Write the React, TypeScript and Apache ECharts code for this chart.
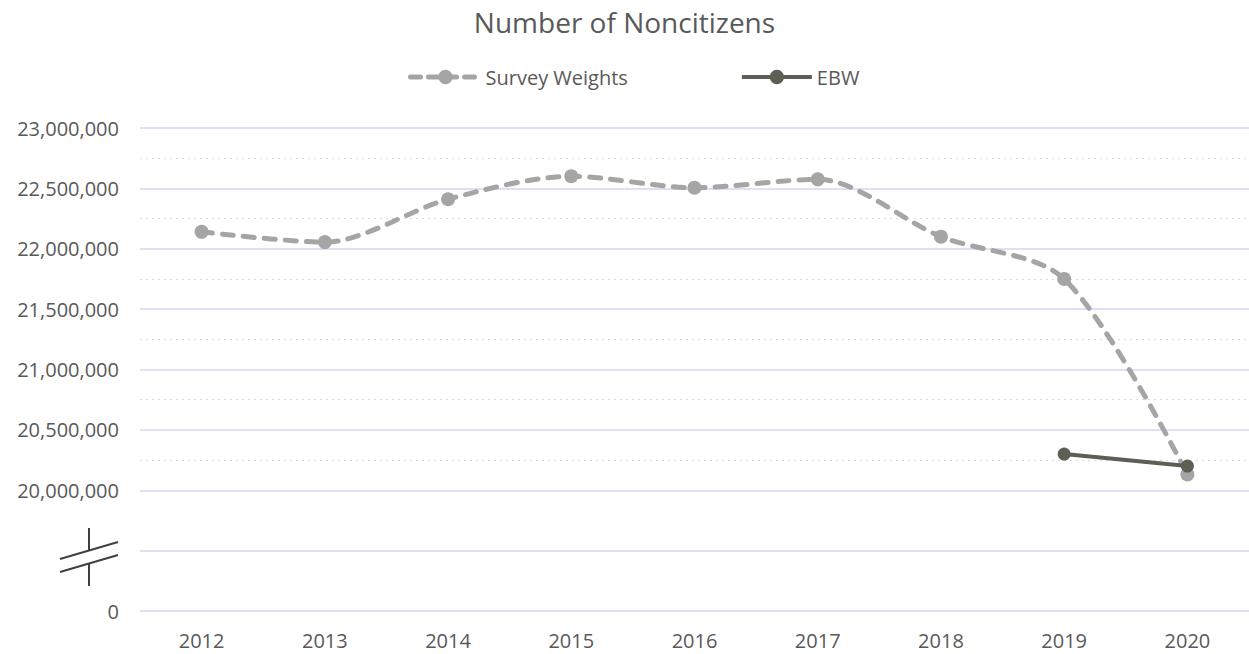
import React, { useEffect, useRef } from "react";
import * as echarts from "echarts";

const categories = ["2012", "2013", "2014", "2015", "2016", "2017", "2018", "2019", "2020"];
const surveyWeights = [22140000, 22055000, 22410000, 22600000, 22505000, 22575000, 22100000, 21750000, 20130000];
const ebw = [null, null, null, null, null, null, null, 20300000, 20200000];
const yTickValues = [19000000, 19500000, 20000000, 20500000, 21000000, 21500000, 22000000, 22500000, 23000000];
const yTickLabels = ["0", "", "20,000,000", "20,500,000", "21,000,000", "21,500,000", "22,000,000", "22,500,000", "23,000,000"];
const minorGridValues = [20250000, 20750000, 21250000, 21750000, 22250000, 22750000];

const FONT = "'Open Sans', 'Noto Sans', sans-serif";
const TEXT = "#595959";
const SURVEY = "#a5a5a5";
const EBWC = "#5e5e55";

export default function App() {
  const ref = useRef<HTMLDivElement>(null);
  useEffect(() => {
    if (!ref.current) return;
    const chart = echarts.init(ref.current, null, { renderer: "svg" });
    chart.setOption({
      animation: false,
      backgroundColor: "#ffffff",
      textStyle: { fontFamily: FONT },
      title: {
        text: "Number of Noncitizens",
        left: "center",
        top: 3,
        textStyle: { fontFamily: FONT, fontSize: 28, fontWeight: "normal", color: TEXT },
      },
      legend: {
        left: 403,
        top: 62,
        itemWidth: 70,
        itemHeight: 18,
        itemGap: 112,
        textStyle: { fontFamily: FONT, fontSize: 20, color: TEXT },
        data: [
          { name: "Survey Weights", lineStyle: { width: 5, color: SURVEY, type: [10, 8], cap: "round" } },
          { name: "EBW", lineStyle: { width: 4, color: EBWC } },
        ],
      },
      grid: { left: 140, top: 128, width: 1113, height: 483 },
      xAxis: {
        type: "category",
        data: categories,
        boundaryGap: true,
        axisLine: { show: false },
        axisTick: { show: false },
        axisLabel: { fontFamily: FONT, fontSize: 20, color: TEXT, margin: 19 },
        splitLine: { show: false },
      },
      yAxis: {
        type: "value",
        min: 19000000,
        max: 23000000,
        interval: 500000,
        axisLine: { show: false },
        axisTick: { show: false },
        axisLabel: {
          fontFamily: FONT,
          fontSize: 20,
          color: TEXT,
          margin: 21,
          formatter: (v: number) => {
            const i = yTickValues.indexOf(v);
            return i >= 0 ? yTickLabels[i] : "";
          },
        },
        splitLine: { show: true, lineStyle: { color: "#d4d4f4", width: 1.5 } },
      },
      series: [
        {
          name: "Survey Weights",
          type: "line",
          data: surveyWeights,
          smooth: 0.3,
          symbol: "circle",
          symbolSize: 14,
          itemStyle: { color: SURVEY },
          lineStyle: { color: SURVEY, width: 5, type: [11, 10], cap: "round" },
          z: 3,
          markLine: {
            silent: true,
            z: 1,
            symbol: ["none", "none"],
            label: { show: false },
            lineStyle: { color: "#d6d6f0", width: 1, type: [2, 4] },
            data: minorGridValues.map((v) => ({ yAxis: v })),
          },
        },
        {
          name: "EBW",
          type: "line",
          data: ebw,
          smooth: 0.3,
          symbol: "circle",
          symbolSize: 13,
          connectNulls: false,
          itemStyle: { color: EBWC },
          lineStyle: { color: EBWC, width: 4 },
          z: 4,
        },
      ],
      graphic: [
        { type: "line", shape: { x1: 89, y1: 528, x2: 89, y2: 550 }, style: { stroke: "#404040", lineWidth: 2 } },
        { type: "line", shape: { x1: 89, y1: 564, x2: 89, y2: 586 }, style: { stroke: "#404040", lineWidth: 2 } },
        { type: "line", shape: { x1: 60, y1: 559, x2: 118, y2: 542 }, style: { stroke: "#404040", lineWidth: 2 } },
        { type: "line", shape: { x1: 60, y1: 572, x2: 118, y2: 555 }, style: { stroke: "#404040", lineWidth: 2 } },
      ],
    });
    return () => chart.dispose();
  }, []);
  return (
    <div
      ref={ref}
      style={{ position: "absolute", left: 0, top: 0, width: 1249, height: 654 }}
    />
  );
}
